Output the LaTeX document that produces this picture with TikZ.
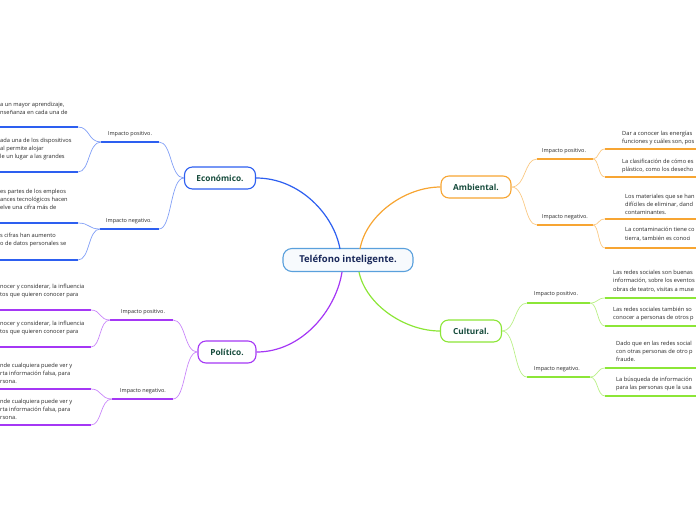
\documentclass[tikz,border=0pt]{standalone}
\usepackage{fontspec}
\setmainfont{Open Sans}
\usepackage{tikz}
\usetikzlibrary{positioning}
\definecolor{rootblue}{RGB}{90,160,220}
\definecolor{roottext}{RGB}{25,40,90}
\definecolor{topictext}{RGB}{22,75,60}
\definecolor{leaftext}{RGB}{40,40,40}
\definecolor{ecoblue}{RGB}{45,95,240}
\definecolor{polpurple}{RGB}{165,55,245}
\definecolor{amborange}{RGB}{247,165,50}
\definecolor{culgreen}{RGB}{140,230,55}

\begin{document}
\begin{tikzpicture}[x=1pt,y=-1pt,
    root/.style={rectangle, rounded corners=9pt, draw=rootblue, fill=rootblue!5, line width=1.1pt, minimum width=130pt, minimum height=23pt, font=\fontsize{9.5}{11}\selectfont\bfseries, text=roottext},
    topic/.style={rectangle, rounded corners=8pt, draw=#1, fill=white, line width=1.1pt, minimum height=22pt, font=\fontsize{8.3}{9}\selectfont\bfseries, text=topictext},
    impact/.style={inner sep=0pt, font=\fontsize{5.5}{6.5}\selectfont, text=leaftext},
    leaf/.style={inner sep=0pt, align=left, font=\fontsize{5.7}{8.2}\selectfont, text=leaftext},
    main/.style={line width=1.2pt, #1},
    branch/.style={line width=0.7pt, #1!60},
    bar/.style={line width=2.2pt, #1},
]
\useasboundingbox (0,0) rectangle (696,520);

\node[root] (phone) at (348,260) {Teléfono inteligente.};
\node[topic=ecoblue, minimum width=71pt] (eco) at (220,178) {Económico.};
\node[topic=polpurple, minimum width=58pt] (pol) at (227,352) {Político.};
\node[topic=amborange, minimum width=70pt] (amb) at (476,187) {Ambiental.};
\node[topic=culgreen, minimum width=61pt] (cul) at (471,331) {Cultural.};

\coordinate (phone-eco) at (340,249);
\coordinate (phone-amb) at (360,249);
\coordinate (phone-pol) at (342,272);
\coordinate (phone-cul) at (359,272);

\draw[main=ecoblue] (eco.east) .. controls (300,178) and (334,215) .. (phone-eco);
\draw[main=polpurple] (pol.east) .. controls (302,352) and (336,310) .. (phone-pol);
\draw[main=amborange] (amb.west) .. controls (405,187) and (366,215) .. (phone-amb);
\draw[main=culgreen] (cul.west) .. controls (405,331) and (366,305) .. (phone-cul);

% Economico
\coordinate (ecoP-in) at (159,142);
\coordinate (ecoP-out) at (101,142);
\coordinate (ecoN-in) at (159,229);
\coordinate (ecoN-out) at (100,229);
\node[impact] (ecoP) at (130,134) {Impacto positivo.};
\node[impact] (ecoN) at (129,221) {Impacto negativo.};
\draw[bar=ecoblue] (ecoP-out) -- (ecoP-in);
\draw[bar=ecoblue] (ecoN-out) -- (ecoN-in);
\draw[branch=ecoblue] (eco.west) .. controls (170,178) and (172,142) .. (ecoP-in);
\draw[branch=ecoblue] (eco.west) .. controls (170,178) and (172,229) .. (ecoN-in);

\coordinate (ecoP1) at (78,127);
\coordinate (ecoP2) at (78,172);
\coordinate (ecoN1) at (78,223);
\coordinate (ecoN2) at (78,260);
\node[leaf, anchor=south west] (ecoP1t) at (0,115) {a un mayor aprendizaje,\\nseñanza en cada una de};
\node[leaf, anchor=south west] (ecoP2t) at (0,160) {ada una de los dispositivos\\al permite alojar\\le un lugar a las grandes};
\node[leaf, anchor=south west] (ecoN1t) at (0,210) {es partes de los empleos\\ances tecnológicos hacen\\elve una cifra más de};
\node[leaf, anchor=south west] (ecoN2t) at (0,247) {s cifras han aumento\\o de datos personales se};
\draw[bar=ecoblue] (0,127) -- (ecoP1);
\draw[bar=ecoblue] (0,172) -- (ecoP2);
\draw[bar=ecoblue] (0,223) -- (ecoN1);
\draw[bar=ecoblue] (0,260) -- (ecoN2);
\draw[branch=ecoblue] (ecoP-out) .. controls (88,142) and (90,127) .. (ecoP1);
\draw[branch=ecoblue] (ecoP-out) .. controls (88,142) and (90,172) .. (ecoP2);
\draw[branch=ecoblue] (ecoN-out) .. controls (88,229) and (90,223) .. (ecoN1);
\draw[branch=ecoblue] (ecoN-out) .. controls (88,229) and (90,260) .. (ecoN2);

% Politico
\coordinate (polP-in) at (173,320);
\coordinate (polP-out) at (110,320);
\coordinate (polN-in) at (173,399);
\coordinate (polN-out) at (112,399);
\node[impact] (polP) at (143,312) {Impacto positivo.};
\node[impact] (polN) at (143,391) {Impacto negativo.};
\draw[bar=polpurple] (polP-out) -- (polP-in);
\draw[bar=polpurple] (polN-out) -- (polN-in);
\draw[branch=polpurple] (pol.west) .. controls (184,352) and (186,320) .. (polP-in);
\draw[branch=polpurple] (pol.west) .. controls (184,352) and (186,399) .. (polN-in);

\coordinate (polP1) at (91,310);
\coordinate (polP2) at (91,347);
\coordinate (polN1) at (91,389);
\coordinate (polN2) at (91,425);
\node[leaf, anchor=south west] (polP1t) at (0,298) {nocer y considerar, la influencia\\tos que quieren conocer para};
\node[leaf, anchor=south west] (polP2t) at (0,335) {nocer y considerar, la influencia\\tos que quieren conocer para};
\node[leaf, anchor=south west] (polN1t) at (0,384) {nde cualquiera puede ver y\\rta información falsa, para\\rsona.};
\node[leaf, anchor=south west] (polN2t) at (0,420) {nde cualquiera puede ver y\\rta información falsa, para\\rsona.};
\draw[bar=polpurple] (0,310) -- (polP1);
\draw[bar=polpurple] (0,347) -- (polP2);
\draw[bar=polpurple] (0,389) -- (polN1);
\draw[bar=polpurple] (0,425) -- (polN2);
\draw[branch=polpurple] (polP-out) .. controls (99,320) and (101,310) .. (polP1);
\draw[branch=polpurple] (polP-out) .. controls (99,320) and (101,347) .. (polP2);
\draw[branch=polpurple] (polN-out) .. controls (100,399) and (102,389) .. (polN1);
\draw[branch=polpurple] (polN-out) .. controls (100,399) and (102,425) .. (polN2);

% Ambiental
\coordinate (ambP-in) at (537,159);
\coordinate (ambP-out) at (593,159);
\coordinate (ambN-in) at (537,225);
\coordinate (ambN-out) at (593,225);
\node[impact] (ambP) at (564,151) {Impacto positivo.};
\node[impact] (ambN) at (565,217) {Impacto negativo.};
\draw[bar=amborange] (ambP-in) -- (ambP-out);
\draw[bar=amborange] (ambN-in) -- (ambN-out);
\draw[branch=amborange] (amb.east) .. controls (526,187) and (524,159) .. (ambP-in);
\draw[branch=amborange] (amb.east) .. controls (526,187) and (524,225) .. (ambN-in);

\coordinate (ambP1) at (605,149);
\coordinate (ambP2) at (605,177);
\coordinate (ambN1) at (605,219);
\coordinate (ambN2) at (605,248);
\node[leaf, anchor=south west] (ambP1t) at (622,145) {Dar a conocer las energías\\funciones y cuáles son, pos};
\node[leaf, anchor=south west] (ambP2t) at (622,173) {La clasificación de cómo es\\plástico, como los desecho};
\node[leaf, anchor=south west] (ambN1t) at (625,215) {Los materiales que se han\\difíciles de eliminar, dand\\contaminantes.};
\node[leaf, anchor=south west] (ambN2t) at (625,241) {La contaminación tiene co\\tierra, también es conoci};
\draw[bar=amborange] (ambP1) -- (696,149);
\draw[bar=amborange] (ambP2) -- (696,177);
\draw[bar=amborange] (ambN1) -- (696,219);
\draw[bar=amborange] (ambN2) -- (696,248);
\draw[branch=amborange] (ambP-out) .. controls (599,159) and (598,149) .. (ambP1);
\draw[branch=amborange] (ambP-out) .. controls (599,159) and (598,177) .. (ambP2);
\draw[branch=amborange] (ambN-out) .. controls (599,225) and (598,219) .. (ambN1);
\draw[branch=amborange] (ambN-out) .. controls (599,225) and (598,248) .. (ambN2);

% Cultural
\coordinate (culP-in) at (527,303);
\coordinate (culP-out) at (590,303);
\coordinate (culN-in) at (527,377);
\coordinate (culN-out) at (590,377);
\node[impact] (culP) at (556,294) {Impacto positivo.};
\node[impact] (culN) at (557,369) {Impacto negativo.};
\draw[bar=culgreen] (culP-in) -- (culP-out);
\draw[bar=culgreen] (culN-in) -- (culN-out);
\draw[branch=culgreen] (cul.east) .. controls (516,331) and (514,303) .. (culP-in);
\draw[branch=culgreen] (cul.east) .. controls (516,331) and (514,377) .. (culN-in);

\coordinate (culP1) at (605,298);
\coordinate (culP2) at (605,326);
\coordinate (culN1) at (605,368);
\coordinate (culN2) at (605,396);
\node[leaf, anchor=south west] (culP1t) at (613,292) {Las redes sociales son buenas\\información, sobre los eventos\\obras de teatro, visitas a muse};
\node[leaf, anchor=south west] (culP2t) at (613,321) {Las redes sociales también so\\conocer a personas de otros p};
\node[leaf, anchor=south west] (culN1t) at (616,362) {Dado que en las redes social\\con otras personas de otro p\\fraude.};
\node[leaf, anchor=south west] (culN2t) at (616,391) {La búsqueda de información\\para las personas que la usa};
\draw[bar=culgreen] (culP1) -- (696,298);
\draw[bar=culgreen] (culP2) -- (696,326);
\draw[bar=culgreen] (culN1) -- (696,368);
\draw[bar=culgreen] (culN2) -- (696,396);
\draw[branch=culgreen] (culP-out) .. controls (598,303) and (597,298) .. (culP1);
\draw[branch=culgreen] (culP-out) .. controls (598,303) and (597,326) .. (culP2);
\draw[branch=culgreen] (culN-out) .. controls (598,377) and (597,368) .. (culN1);
\draw[branch=culgreen] (culN-out) .. controls (598,377) and (597,396) .. (culN2);
\end{tikzpicture}
\end{document}
